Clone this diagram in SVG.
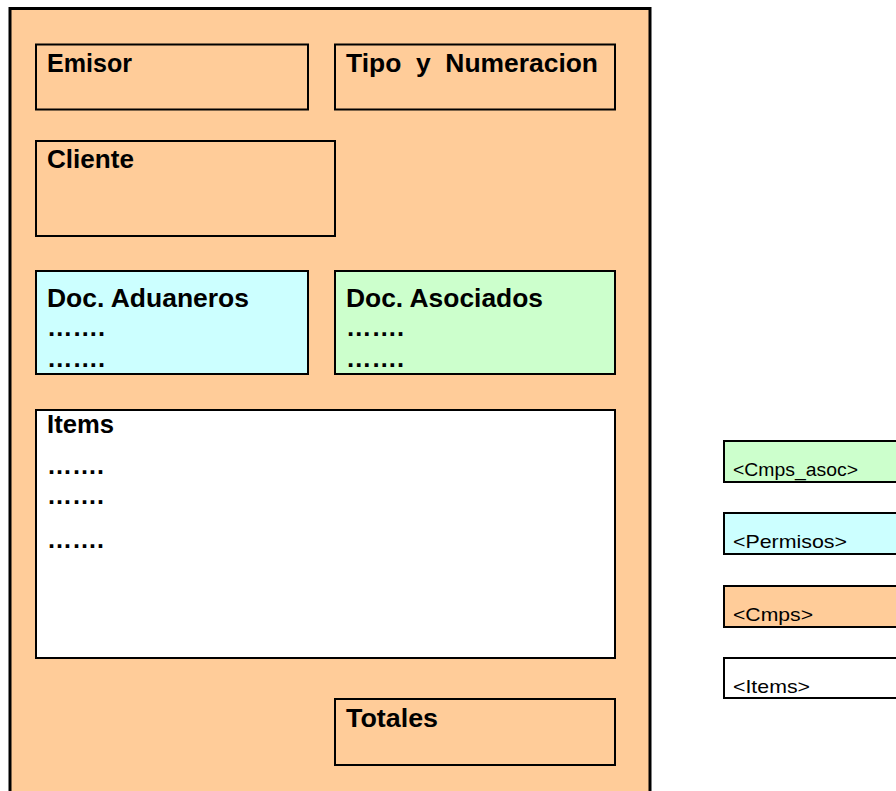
<svg xmlns="http://www.w3.org/2000/svg" width="896" height="791" viewBox="0 0 896 791">
<style>
.box{stroke:#000;stroke-width:2}
.t{font-family:"Liberation Sans",Arial,sans-serif;font-weight:bold;font-size:25px;fill:#000}
.l{font-family:"Liberation Sans",Arial,sans-serif;font-size:19px;fill:#000}
.o{fill:#FFCC99}
</style>
<rect width="896" height="791" fill="#fff"/>
<g id="form">
<rect x="10" y="8.5" width="640" height="800" fill="#FFCC99" stroke="#000" stroke-width="3"/>
</g>
<g id="emisor">
<rect class="box o" x="36" y="44.5" width="272" height="65"/>
<text class="t" x="47" y="72" textLength="85" lengthAdjust="spacingAndGlyphs">Emisor</text>
</g>
<g id="tipo">
<rect class="box o" x="335" y="44.5" width="280" height="65"/>
<text class="t" x="346" y="72" textLength="252" lengthAdjust="spacingAndGlyphs" xml:space="preserve">Tipo  y  Numeracion</text>
</g>
<g id="cliente">
<rect class="box o" x="36" y="141" width="299" height="95"/>
<text class="t" x="47" y="168" textLength="87" lengthAdjust="spacingAndGlyphs">Cliente</text>
</g>
<g id="aduaneros">
<rect class="box" x="36" y="271" width="272" height="103" fill="#CCFFFF"/>
<text class="t" x="47" y="307" textLength="202" lengthAdjust="spacingAndGlyphs">Doc. Aduaneros</text>
<text class="t" x="47" y="336" textLength="58" lengthAdjust="spacingAndGlyphs">…….</text>
<text class="t" x="47" y="367" textLength="58" lengthAdjust="spacingAndGlyphs">…….</text>
</g>
<g id="asociados">
<rect class="box" x="335" y="271" width="280" height="103" fill="#CCFFCC"/>
<text class="t" x="346" y="307" textLength="197" lengthAdjust="spacingAndGlyphs">Doc. Asociados</text>
<text class="t" x="346" y="336" textLength="58" lengthAdjust="spacingAndGlyphs">…….</text>
<text class="t" x="346" y="367" textLength="58" lengthAdjust="spacingAndGlyphs">…….</text>
</g>
<g id="items">
<rect class="box" x="36" y="410" width="579" height="248" fill="#fff"/>
<text class="t" x="47" y="433" textLength="67" lengthAdjust="spacingAndGlyphs">Items</text>
<text class="t" x="47" y="474" textLength="57" lengthAdjust="spacingAndGlyphs">…….</text>
<text class="t" x="47" y="504" textLength="57" lengthAdjust="spacingAndGlyphs">…….</text>
<text class="t" x="47" y="548" textLength="57" lengthAdjust="spacingAndGlyphs">…….</text>
</g>
<g id="totales">
<rect class="box o" x="335" y="699" width="280" height="66"/>
<text class="t" x="346" y="727" textLength="92" lengthAdjust="spacingAndGlyphs">Totales</text>
</g>
<g id="legend-asoc">
<rect class="box" x="724" y="441" width="180" height="41" fill="#CCFFCC"/>
<text class="l" x="733" y="476" textLength="125" lengthAdjust="spacingAndGlyphs">&lt;Cmps_asoc&gt;</text>
</g>
<g id="legend-permisos">
<rect class="box" x="724" y="513" width="180" height="41" fill="#CCFFFF"/>
<text class="l" x="733" y="548" textLength="114" lengthAdjust="spacingAndGlyphs">&lt;Permisos&gt;</text>
</g>
<g id="legend-cmps">
<rect class="box" x="724" y="586" width="180" height="41" fill="#FFCC99"/>
<text class="l" x="733" y="621" textLength="80" lengthAdjust="spacingAndGlyphs">&lt;Cmps&gt;</text>
</g>
<g id="legend-items">
<rect class="box" x="724" y="658" width="180" height="40" fill="#fff"/>
<text class="l" x="733" y="693" textLength="77" lengthAdjust="spacingAndGlyphs">&lt;Items&gt;</text>
</g>
<g id="connectors"/>
</svg>
